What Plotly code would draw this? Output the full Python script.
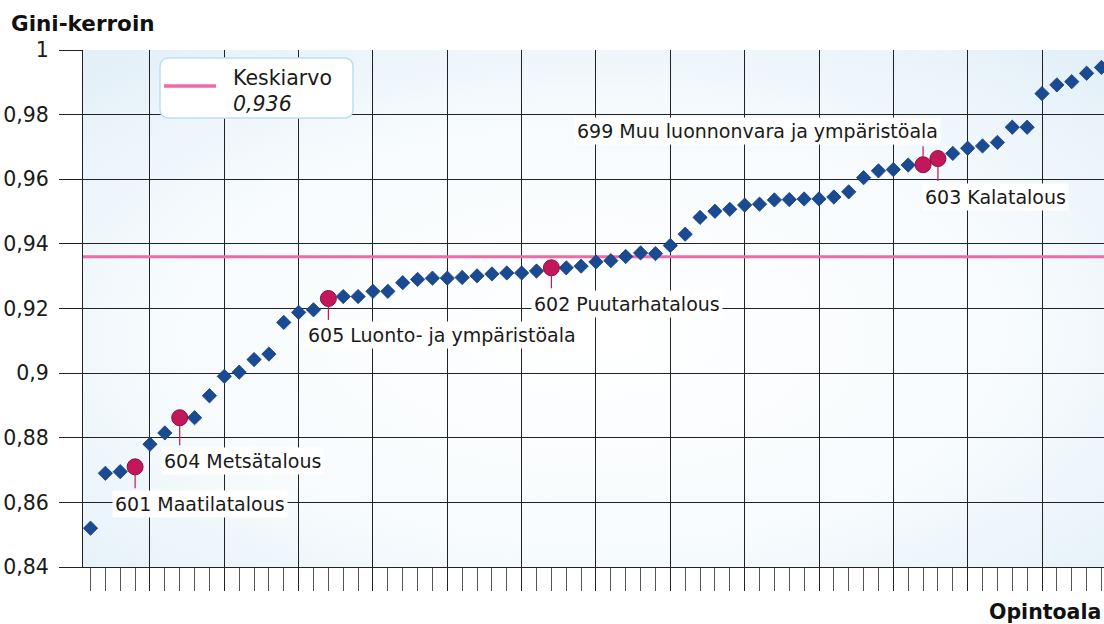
import base64
import plotly.graph_objects as go

# opintoalat (järjestysnumero) ja Gini-kertoimet
categories = list(range(1, 70))
gini = [
    0.852, 0.869, 0.8695, 0.871, 0.878, 0.8815, 0.8862, 0.8862, 0.893, 0.899,
    0.9003, 0.9042, 0.9059, 0.9157, 0.9188, 0.9196, 0.9231, 0.9237, 0.9237, 0.9253,
    0.9253, 0.928, 0.929, 0.9294, 0.9294, 0.9296, 0.9301, 0.9307, 0.931, 0.931,
    0.9316, 0.9326, 0.9326, 0.9331, 0.9344, 0.9348, 0.9361, 0.9372, 0.937, 0.9395,
    0.943, 0.9482, 0.9501, 0.9507, 0.952, 0.9523, 0.9536, 0.9537, 0.9539, 0.9539,
    0.9545, 0.9561, 0.9605, 0.9626, 0.963, 0.9644, 0.9645, 0.9664, 0.968, 0.9696,
    0.9703, 0.9714, 0.9761, 0.9761, 0.9865, 0.9892, 0.9902, 0.9928, 0.9946,
]

highlight_pos = [4, 7, 17, 32, 57, 58]
highlight_names = [
    "601 Maatilatalous",
    "604 Metsätalous",
    "605 Luonto- ja ympäristöala",
    "602 Puutarhatalous",
    "699 Muu luonnonvara ja ympäristöala",
    "603 Kalatalous",
]

mean_name = "Keskiarvo"
mean_value = 0.936
mean_text = "0,936"

y_title = "Gini-kerroin"
x_title = "Opintoala"

FONT = "DejaVu Sans, Verdana, sans-serif"
BLUE = "#1a4a92"
MAGENTA = "#c2185b"
PINK = "#ef6aa6"
GRID = "#222222"

# plot area in pixels
PL, PR, PT, PB = 83, 1104, 50, 567


def px(x):
    return (x - PL) / (PR - PL)


def py(y):
    return (PB - y) / (PB - PT)


plain_x = [c for c in categories if c not in highlight_pos]
plain_y = [g for c, g in zip(categories, gini) if c not in highlight_pos]
hl_y = [gini[categories.index(c)] for c in highlight_pos]

fig = go.Figure()

# mean line, under the markers
fig.add_trace(go.Scatter(
    x=[categories[0] - 1, categories[-1] + 1], y=[mean_value, mean_value],
    mode="lines", line=dict(color=PINK, width=3), showlegend=False, hoverinfo="skip",
))
fig.add_trace(go.Scatter(
    x=plain_x, y=plain_y, mode="markers",
    marker=dict(symbol="diamond", size=11, color=BLUE,
                line=dict(color="#153c7a", width=0.8)),
    showlegend=False,
))
fig.add_trace(go.Scatter(
    x=highlight_pos, y=hl_y, mode="markers",
    marker=dict(symbol="circle", size=16, color=MAGENTA,
                line=dict(color="#8a0f42", width=1)),
    showlegend=False,
))

# point labels: (xanchor, yanchor, xshift, yshift)
label_style = [
    ("left", "top", -23, -23),
    ("left", "top", -19, -29),
    ("left", "top", -23, -23),
    ("left", "top", -20, -22),
    ("right", "bottom", 18, 20),
    ("left", "top", -16, -24),
]
for pos, val, name, (xa, ya, xs, ys) in zip(highlight_pos, hl_y, highlight_names, label_style):
    fig.add_annotation(x=pos, y=val, text="", showarrow=True, arrowhead=0,
                       ax=0, ay=-ys, standoff=8, arrowwidth=1.2, arrowcolor=MAGENTA)
    fig.add_annotation(x=pos, y=val, text=name, showarrow=False,
                       xanchor=xa, yanchor=ya, xshift=xs, yshift=ys,
                       bgcolor="white", borderpad=2,
                       font=dict(family=FONT, size=19, color="#1a1a1a"))

# hand-made legend box with rounded corners
x0, x1, y0, y1, r = 160, 353, 58, 118, 9
pts = [
    ("M", (x0 + r, y0)), ("L", (x1 - r, y0)), ("Q", (x1, y0), (x1, y0 + r)),
    ("L", (x1, y1 - r)), ("Q", (x1, y1), (x1 - r, y1)), ("L", (x0 + r, y1)),
    ("Q", (x0, y1), (x0, y1 - r)), ("L", (x0, y0 + r)), ("Q", (x0, y0), (x0 + r, y0)),
]
path = ""
for seg in pts:
    path += seg[0] + " " + " ".join(f"{px(a):.5f},{py(b):.5f}" for a, b in seg[1:]) + " "
path += "Z"
fig.add_shape(type="path", xref="paper", yref="paper", path=path, layer="above",
              fillcolor="white", line=dict(color="#bfe0ef", width=1.5))
fig.add_shape(type="line", xref="paper", yref="paper", layer="above",
              x0=px(164), x1=px(216), y0=py(86), y1=py(86),
              line=dict(color=PINK, width=3.5))
fig.add_annotation(xref="paper", yref="paper", x=px(231), y=py(78), text=mean_name,
                   showarrow=False, xanchor="left", yanchor="middle",
                   font=dict(family=FONT, size=20.5, color="#1a1a1a"))
fig.add_annotation(xref="paper", yref="paper", x=px(231), y=py(104), text=f"<i>{mean_text}</i>",
                   showarrow=False, xanchor="left", yanchor="middle",
                   font=dict(family=FONT, size=20.5, color="#1a1a1a"))

# axis titles
fig.add_annotation(xref="paper", yref="paper", x=px(9), y=py(23), text=f"<b>{y_title}</b>",
                   showarrow=False, xanchor="left", yanchor="middle",
                   font=dict(family=FONT, size=21.5, color="#111"))
fig.add_annotation(xref="paper", yref="paper", x=px(1103), y=py(612), text=f"<b>{x_title}</b>",
                   showarrow=False, xanchor="right", yanchor="middle",
                   font=dict(family=FONT, size=20.5, color="#111"))

# soft radial background
svg = (
    '<svg xmlns="http://www.w3.org/2000/svg" width="1021" height="517" preserveAspectRatio="none">'
    '<defs><radialGradient id="g" cx="50%" cy="55%" r="75%">'
    '<stop offset="0" stop-color="#ffffff"/><stop offset="0.55" stop-color="#f7fbfd"/>'
    '<stop offset="1" stop-color="#e1eff8"/></radialGradient></defs>'
    '<rect width="100%" height="100%" fill="url(#g)"/></svg>'
)
bg = "data:image/svg+xml;base64," + base64.b64encode(svg.encode()).decode()
fig.add_layout_image(source=bg, xref="paper", yref="paper", x=0, y=1, sizex=1, sizey=1,
                     xanchor="left", yanchor="top", sizing="stretch", layer="below")

fig.update_layout(
    width=1104, height=624,
    margin=dict(l=PL, r=1104 - PR, t=PT, b=624 - PB),
    paper_bgcolor="white", plot_bgcolor="white",
    separators=", ",
    showlegend=False,
    font=dict(family=FONT, color="#1a1a1a"),
    xaxis=dict(
        range=[0.4955, 69.17], tick0=5, dtick=5,
        showgrid=True, gridcolor=GRID, gridwidth=1,
        ticks="outside", ticklen=23, tickcolor=GRID, tickwidth=1,
        showticklabels=False, zeroline=False,
        showline=True, linecolor=GRID, linewidth=1,
        minor=dict(dtick=1, ticks="outside", ticklen=23, tickcolor="#555", tickwidth=1, showgrid=False),
    ),
    yaxis=dict(
        range=[0.84, 1.0], tick0=0.84, dtick=0.02,
        showgrid=True, gridcolor=GRID, gridwidth=1,
        ticks="outside", ticklen=23, tickcolor=GRID, tickwidth=1,
        tickfont=dict(family=FONT, size=20.5, color="#1a1a1a"),
        zeroline=False, showline=True, linecolor=GRID, linewidth=1,
        ticklabelstandoff=6,
    ),
)

fig.write_html("out.html", config={"displayModeBar": False},
               post_script="document.body.style.margin='0';")
